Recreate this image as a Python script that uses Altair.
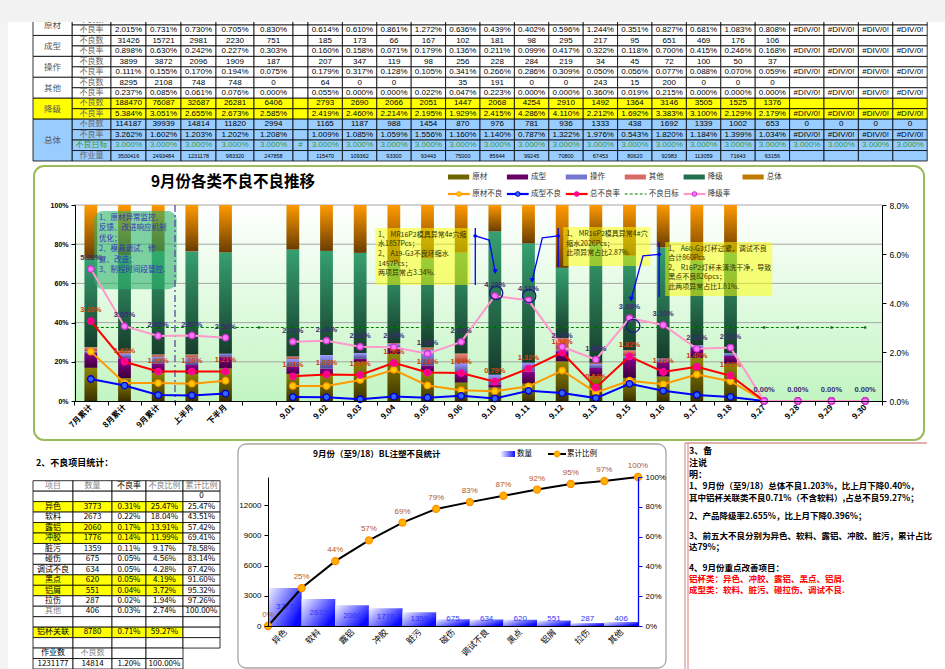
import json
import altair as alt
import pandas as pd

# ======================= DATA =======================
cats = ['7月累计', '8月累计', '9月累计', '上半月', '下半月', '',
        '9.01', '9.02', '9.03', '9.04', '9.05', '9.06', '9.10', '9.11', '9.12',
        '9.13', '9.15', '9.16', '9.17', '9.18', '9.27', '9.28', '9.29', '9.30']
BLANK = 5  # empty spacer column between 下半月 and 9.01

# 23 real columns (spacer excluded); None = #DIV/0!
rate_raw = [2.015, 0.731, 0.730, 0.705, 0.830, 0.614, 0.610, 0.861, 1.272, 0.636, 0.439, 0.402,
            0.596, 1.244, 0.351, 0.827, 0.681, 1.083, 0.808, None, None, None, None]
rate_mold = [0.898, 0.630, 0.242, 0.227, 0.303, 0.160, 0.158, 0.071, 0.179, 0.136, 0.211, 0.099,
             0.417, 0.322, 0.118, 0.700, 0.415, 0.246, 0.168, None, None, None, None]
rate_oper = [0.111, 0.155, 0.170, 0.194, 0.075, 0.179, 0.317, 0.128, 0.105, 0.341, 0.266, 0.286,
             0.309, 0.050, 0.056, 0.077, 0.088, 0.070, 0.059, None, None, None, None]
rate_other = [0.237, 0.085, 0.061, 0.076, 0.000, 0.055, 0.000, 0.000, 0.022, 0.047, 0.223, 0.000,
              0.000, 0.360, 0.019, 0.215, 0.000, 0.000, 0.000, None, None, None, None]
rate_down = [5.384, 3.051, 2.655, 2.673, 2.585, 2.419, 2.460, 2.214, 2.195, 1.929, 2.415, 4.286,
             4.110, 2.212, 1.692, 3.383, 3.100, 2.129, 2.179, None, None, None, None]
rate_total = [3.262, 1.602, 1.203, 1.202, 1.208, 1.009, 1.085, 1.059, 1.556, 1.160, 1.140, 0.787,
              1.322, 1.976, 0.543, 1.820, 1.184, 1.399, 1.034, None, None, None, None]
rate_target = [3.0, 3.0, 3.0, 3.0, 3.0, 3.0, 3.0, 3.0, 3.0, 3.0, 3.0, 3.0,
               3.0, 3.0, 3.0, 3.0, 3.0, 3.0, 3.0, 3.0, 3.0, 3.0, 3.0]

cnt_mold = [31426, 15721, 2981, 2230, 751, 185, 173, 66, 167, 102, 181, 98, 295, 217, 95, 651, 469,
            176, 106, None, None, None, None]
cnt_oper = [3899, 3872, 2096, 1909, 187, 207, 347, 119, 98, 256, 228, 284, 219, 34, 45, 72, 100,
            50, 37, None, None, None, None]
cnt_other = [8295, 2108, 748, 748, 0, 64, 0, 0, None, 35, 191, 0, 0, 243, 15, 200, 0, 0, 0,
             None, None, None, None]
cnt_down = [188470, 76087, 32687, 26281, 6406, 2793, 2690, 2066, 2051, 1447, 2068, 4254, 2910,
            1492, 1364, 3146, 3505, 1525, 1376, None, None, None, None]
cnt_total = [114187, 39939, 14814, 11820, 2994, 1165, 1187, 988, 1454, 870, 976, 781, 936, 1333,
             438, 1692, 1339, 1002, 653, 0, 0, 0, 0]
volume = [3500416, 2493484, 1231178, 983320, 247858, 115470, 109362, 93300, 93443, 75000, 85644,
          99245, 70800, 67453, 80620, 92983, 113059, 71643, 63156, None, None, None, None]

bar_series = ['原材', '成型', '操作', '其他', '降级', '总体']
line_series = ['原材不良', '成型不良', '总不良率', '不良目标', '降级率']

# defect items (Sept, up to 9/18)
items = ['异色', '软料', '露铝', '冲胶', '脏污', '碰伤', '调试不良', '黑点', '铝屑', '拉伤', '其他']
qty = [3773, 2673, 2060, 1776, 1359, 675, 634, 620, 551, 287, 406]
item_rate = ['0.31%', '0.22%', '0.17%', '0.14%', '0.11%', '0.05%', '0.05%', '0.05%', '0.04%', '0.02%', '0.03%']
item_share = ['25.47%', '18.04%', '13.91%', '11.99%', '9.17%', '4.56%', '4.28%', '4.19%', '3.72%', '1.94%', '2.74%']
item_cum = [25.47, 43.51, 57.42, 69.41, 78.58, 83.14, 87.42, 91.60, 95.32, 97.26, 100.00]
highlight = ['异色', '露铝', '冲胶', '黑点', '铝屑', '铝杯关联']
alu_row = ['铝杯关联', '8780', '0.71%', '59.27%', '']
work_total = ['1231177', '14814', '1.20%', '100.00%']
defect_total = 14814

green_note = ['1、原材异常监控、', '反馈、改进响应机制', '优化；', '2、模具调试、修', '复、改造；', '3、制程时间段管控.']
note_a = ['1、 MR16P2模具异常4#穴缩', '水1857Pcs；', '2、 A19-G3不良环缩水', '1457Pcs；', '两项异常占3.34%.']
note_b = ['1、 MR16P2模具异常4#穴', '缩水2026Pcs；', '此项异常占比2.87%.']
note_c = ['1、 A60-G3灯杯过紧，调试不良', '合计860Pcs', '2、 R16P2灯杯未清洗干净，导致', '黑点不良826pcs；', '此两项异常占比1.81%.']

notes = ['3、备', '注说', '明：',
         '1、9月份（至9/18）总体不良1.203%，比上月下降0.40%，',
         '其中铝杯关联类不良0.71%（不含软料）,占总不良59.27%；',
         '2、产品降级率2.655%，比上月下降0.396%；',
         '3、前五大不良分别为异色、软料、露铝、冲胶、脏污，累计占比',
         '达79%；',
         '4、9月份重点改善项目：',
         '铝杯类：异色、冲胶、露铝、黑点、铝屑.',
         '成型类：软料、脏污、碰拉伤、调试不良.']

# ======================= STYLE / LAYOUT =======================
CJK = 'Noto Sans CJK SC'
LAT = 'Liberation Sans'
BAR_GRAD = {'原材': ('#8f8500', '#3a3000'), '成型': ('#8a008a', '#3a003a'),
            '操作': ('#9a9aff', '#4a4a90'), '其他': ('#f08878', '#a04030'),
            '降级': ('#36a070', '#163d2b'), '总体': ('#ff9a00', '#6a3c00')}
BAR_SOLID = {'原材': '#6e6600', '成型': '#660066', '操作': '#7676d0', '其他': '#d86a64',
             '降级': '#22704c', '总体': '#c07800'}
LINE_STYLE = {'原材不良': ('#ff9900', '#ffcc00', '#ff9900'),
              '成型不良': ('#0000ff', '#3366ff', '#0000cc'),
              '总不良率': ('#ff0000', '#ff0077', '#ff00aa'),
              '降级率': ('#ff99cc', '#ff77ff', '#cc33cc')}
NOTE_Y = [451, 463, 474.5, 486, 497.5, 516, 536, 547, 568, 579, 590]  # line positions (px)


def lg(c0, c1, x2=0.0, y2=1.0):
    return alt.LinearGradient(gradient='linear',
                              stops=[alt.GradientStop(color=c0, offset=0),
                                     alt.GradientStop(color=c1, offset=1)],
                              x1=0, y1=0, x2=x2, y2=y2)


def sc(d, r):
    return alt.Scale(domain=d, range=r, nice=False, zero=False)


one = pd.DataFrame({'k': [0]})


def px_rect(x0, y0, x1, y1, **kw):
    return alt.Chart(one).mark_rect(**kw).encode(
        x=alt.value(x0), x2=alt.value(x1), y=alt.value(y0), y2=alt.value(y1))


def px_rule(x0, y0, x1, y1, **kw):
    return alt.Chart(one).mark_rule(**kw).encode(
        x=alt.value(x0), x2=alt.value(x1), y=alt.value(y0), y2=alt.value(y1))


def px_text(txt, x, y, **kw):
    return alt.Chart(one).mark_text(text=txt, **kw).encode(x=alt.value(x), y=alt.value(y))


def cat_of(j):
    return j if j < BLANK else j + 1


layers = []

# ======================= TOP TABLE =======================
tw = [39, 39, 35, 35, 35, 38, 39, 15] + [34.4] * 18
te = [0.0]
for w in tw:
    te.append(te[-1] + w)
TX = sc([0, te[-1]], [33, 33 + te[-1]])
TY = sc([0, 13], [25, 161])

top_rows = [('原材', '不良数', None, 'n'), ('原材', '不良率', rate_raw, 'p'),
            ('成型', '不良数', cnt_mold, 'n'), ('成型', '不良率', rate_mold, 'p'),
            ('操作', '不良数', cnt_oper, 'n'), ('操作', '不良率', rate_oper, 'p'),
            ('其他', '不良数', cnt_other, 'n'), ('其他', '不良率', rate_other, 'p'),
            ('降级', '不良数', cnt_down, 'n'), ('降级', '不良率', rate_down, 'p'),
            ('总体', '不良数', cnt_total, 'n'), ('总体', '不良率', rate_total, 'p'),
            ('总体', '不良目标', rate_target, 'p'), ('总体', '作业量', volume, 'n')]


def row_fill(g):
    return '#ffff00' if g == '降级' else ('#99ccff' if g == '总体' else '#ffffff')


tcells, tnum, tlab = [], [], []
spans = {}
for ridx, (grp, sub, vals, kind) in enumerate(top_rows):
    r = ridx - 1
    spans.setdefault(grp, [r, r + 1])
    spans[grp][1] = r + 1
    fill = row_fill(grp)
    tcells.append(dict(x0=te[1], x1=te[2], y0=r, y1=r + 1, fill=fill))
    tlab.append(dict(x=(te[1] + te[2]) / 2, y=r + 0.5, t=sub,
                     c='#339933' if sub == '不良目标' else '#666666', s=8))
    for i in range(24):
        c = 2 + i
        tcells.append(dict(x0=te[c], x1=te[c + 1], y0=r, y1=r + 1, fill=fill))
        if i == BLANK:
            t = '#' if sub == '不良目标' else ''
        elif vals is None:
            t = ''
        else:
            v = vals[i if i < BLANK else i - 1]
            if kind == 'p':
                t = '#DIV/0!' if v is None else f'{v:.3f}%'
            else:
                t = '' if v is None else str(v)
        if t:
            tnum.append(dict(x=(te[c] + te[c + 1]) / 2, y=r + 0.5, t=t,
                             c='#339933' if sub == '不良目标' else '#000000',
                             s=5.5 if sub == '作业量' else 8))
for grp, (a, b) in spans.items():
    tcells.append(dict(x0=te[0], x1=te[1], y0=a, y1=b, fill=row_fill(grp)))
    tlab.append(dict(x=(te[0] + te[1]) / 2, y=(a + b) / 2, t=grp, c='#555555', s=8.5))

layers.append(alt.Chart(pd.DataFrame(tcells)).mark_rect(stroke='#000000', strokeWidth=0.8).encode(
    x=alt.X('x0:Q', scale=TX, axis=None), x2='x1:Q',
    y=alt.Y('y0:Q', scale=TY, axis=None), y2='y1:Q',
    fill=alt.Fill('fill:N', scale=None)))
layers.append(alt.Chart(pd.DataFrame(tnum)).mark_text(font=LAT, baseline='middle').encode(
    x=alt.X('x:Q', scale=TX, axis=None), y=alt.Y('y:Q', scale=TY, axis=None),
    text='t:N', color=alt.Color('c:N', scale=None), size=alt.Size('s:Q', scale=None)))
layers.append(alt.Chart(pd.DataFrame(tlab)).mark_text(font=CJK, baseline='middle').encode(
    x=alt.X('x:Q', scale=TX, axis=None), y=alt.Y('y:Q', scale=TY, axis=None),
    text='t:N', color=alt.Color('c:N', scale=None), size=alt.Size('s:Q', scale=None)))
# grey header band / left strip of the sheet window
layers.append(px_rect(0, 0, 945, 22, fill='#f2f2f2'))
layers.append(px_rect(0, 22, 8, 669, fill='#f3f3f3'))

# ======================= MAIN CHART =======================
MX = sc([0, 24], [74, 882])
MY = sc([0, 1], [401, 205])
MR = sc([0, 8], [401, 205])

layers.append(px_rect(34, 166, 924, 440, fill='#ffffff', stroke='#9bbb59', strokeWidth=2, cornerRadius=10))
layers.append(px_text('9月份各类不良不良推移', 233, 182, font=CJK, fontSize=15.5, fontWeight='bold',
                      align='center', baseline='middle', color='#000000'))

label_expr = json.dumps(cats, ensure_ascii=False) + '[floor(datum.value)]'
# plot background (gradient) with left % axis and category labels
layers.append(alt.Chart(one).mark_rect(color=lg('#ffffff', '#c2f5c2')).encode(
    x=alt.XDatum(0, type='quantitative', scale=MX,
                 axis=alt.Axis(orient='bottom', offset=-268, values=[k + 0.5 for k in range(24)],
                               labelExpr=label_expr, labelAngle=315, labelAlign='right',
                               labelBaseline='middle', labelPadding=5, ticks=False,
                               labelFont=CJK, labelFontSize=8, labelFontWeight='bold',
                               labelColor='#000000', domainColor='#000000', domainWidth=1.2,
                               grid=False, title=None, labelOverlap=False, zindex=1)),
    x2=alt.X2Datum(24),
    y=alt.YDatum(0, type='quantitative', scale=MY,
                 axis=alt.Axis(orient='left', offset=-75, values=[0, 0.2, 0.4, 0.6, 0.8, 1.0],
                               format='.0%', labelFont=LAT, labelFontSize=7, labelFontWeight='bold',
                               labelColor='#000000', domainColor='#000000', tickColor='#000000',
                               tickSize=4, grid=False, title=None, labelPadding=3, zindex=1)),
    y2=alt.Y2Datum(1)))

grid_vals = [0.2, 0.4, 0.6, 0.8, 1.0]
layers.append(alt.Chart(pd.DataFrame({'g': grid_vals})).mark_rule(color='#a6a6a6', strokeWidth=1).encode(
    x=alt.XDatum(0, type='quantitative', scale=MX,
                 axis=alt.Axis(orient='bottom', offset=-268, values=list(range(25)), labels=False,
                               domain=False, ticks=True, tickSize=4, tickColor='#000000',
                               grid=False, title=None, zindex=1)),
    x2=alt.X2Datum(24),
    y=alt.Y('g:Q', scale=MY, axis=None)))

# stacked (100%) bars
bar_rows = []
for order, (name, vals) in enumerate(zip(bar_series, [rate_raw, rate_mold, rate_oper,
                                                        rate_other, rate_down, rate_total])):
    for j, v in enumerate(vals):
        bar_rows.append({'i': cat_of(j), 'series': name, 'order': order, 'r': v})
df_bar = pd.DataFrame(bar_rows)
for name in bar_series:
    top, bot = BAR_GRAD[name]
    layers.append(alt.Chart(df_bar).transform_filter('isValid(datum.r) && datum.r > 0').transform_stack(
        stack='r', groupby=['i'], as_=['y0', 'y1'], offset='normalize',
        sort=[alt.SortField('order', order='ascending')]
    ).transform_filter(alt.datum.series == name).transform_calculate(
        xa='datum.i + 0.31', xb='datum.i + 0.69'
    ).mark_rect(color=lg(top, bot)).encode(
        x=alt.X('xa:Q', scale=MX, axis=None), x2='xb:Q',
        y=alt.Y('y0:Q', scale=MY, axis=None), y2='y1:Q'))

# annotation boxes (behind lines)
layers.append(alt.Chart(pd.DataFrame({'a': [0.6], 'b': [3.05], 'c': [0.97], 'd': [0.57]})).mark_rect(
    fill='#2db36b', opacity=0.6, cornerRadius=9).encode(
    x=alt.X('a:Q', scale=MX, axis=None), x2='b:Q', y=alt.Y('c:Q', scale=MY, axis=None), y2='d:Q'))
layers.append(alt.Chart(pd.DataFrame({'a': [8.95, 14.53, 17.56], 'b': [11.77, 17.12, 20.74],
                                      'c': [0.883, 0.888, 0.811], 'd': [0.592, 0.689, 0.536]})).mark_rect(
    fill='#ffff00', opacity=0.5).encode(
    x=alt.X('a:Q', scale=MX, axis=None), x2='b:Q', y=alt.Y('c:Q', scale=MY, axis=None), y2='d:Q'))


def note_df(lines, x, v0, step):
    return pd.DataFrame({'t': lines, 'x': [x] * len(lines),
                         'v': [v0 - step * k for k in range(len(lines))]})


def note_layer(df, color, size):
    return alt.Chart(df).mark_text(font=CJK, fontSize=size, align='left', baseline='middle',
                                   color=color).encode(
        x=alt.X('x:Q', scale=MX, axis=None), y=alt.Y('v:Q', scale=MY, axis=None), text='t:N')


layers.append(note_layer(note_df(green_note, 0.74, 0.934, 0.0536), '#3434b4', 7.5))
layers.append(note_layer(pd.concat([note_df(note_a, 9.03, 0.847, 0.0485),
                                    note_df(note_b, 14.62, 0.852, 0.0495),
                                    note_df(note_c, 17.65, 0.778, 0.0485)]), '#333300', 7))

# vertical dash-dot separator
layers.append(alt.Chart(pd.DataFrame({'x': [3], 'a': [1.0], 'b': [-0.012]})).mark_rule(
    color='#5a4a9a', strokeWidth=1.3, strokeDash=[7, 3, 2, 3]).encode(
    x=alt.X('x:Q', scale=MX, axis=None), y=alt.Y('a:Q', scale=MY, axis=None), y2='b:Q'))

# lines
line_rows = []
for name, vals in zip(['原材不良', '成型不良', '总不良率', '降级率'],
                      [rate_raw, rate_mold, rate_total, rate_down]):
    for j, v in enumerate(vals):
        i = cat_of(j)
        line_rows.append({'i': i, 'series': name, 'v': 0.0 if v is None else v,
                          'seg': 0 if i < BLANK else 1})
df_line = pd.DataFrame(line_rows)

target_df = pd.DataFrame({'i': list(range(24)),
                          'v': rate_target[:BLANK] + [rate_target[BLANK - 1]] + rate_target[BLANK:]})
layers.append(alt.Chart(target_df).transform_calculate(xc='datum.i + 0.5').mark_line(
    color='#008000', strokeWidth=1.2, strokeDash=[3, 2]).encode(
    x=alt.X('xc:Q', scale=MX, axis=None), y=alt.Y('v:Q', scale=MR, axis=None)))
layers.append(alt.Chart(target_df).transform_calculate(xc='datum.i + 0.5').mark_point(
    shape='square', size=5, filled=True, color='#006400', opacity=1).encode(
    x=alt.X('xc:Q', scale=MX, axis=None), y=alt.Y('v:Q', scale=MR, axis=None)))

for name in ['原材不良', '成型不良', '总不良率', '降级率']:
    lc, pf, ps = LINE_STYLE[name]
    base = alt.Chart(df_line).transform_filter(alt.datum.series == name).transform_calculate(
        xc='datum.i + 0.5')
    yax = None
    if name == '降级率':
        yax = alt.Axis(orient='right', offset=-63, values=[0, 2, 4, 6, 8],
                       labelExpr="format(datum.value, '.1f') + '%'", labelFont=LAT,
                       labelFontSize=8.5, labelColor='#000000', domainColor='#000000',
                       tickColor='#000000', tickSize=4, grid=False, title=None, labelPadding=3,
                       zindex=1)
    layers.append(base.mark_line(color=lc, strokeWidth=2).encode(
        x=alt.X('xc:Q', scale=MX, axis=None), y=alt.Y('v:Q', scale=MR, axis=yax), detail='seg:N'))
    layers.append(base.mark_point(shape='circle', size=42, filled=True, fill=pf, stroke=ps,
                                  strokeWidth=1.3, opacity=1).encode(
        x=alt.X('xc:Q', scale=MX, axis=None), y=alt.Y('v:Q', scale=MR, axis=None)))

layers.append(alt.Chart(df_line).transform_filter(
    (alt.datum.series == '总不良率') & (alt.datum.i < 20)).transform_calculate(
    xc='datum.i + 0.5', lab="format(datum.v, '.2f') + '%'").mark_text(
    font=LAT, fontSize=7.5, fontWeight='bold', color='#d0400c', dy=-11).encode(
    x=alt.X('xc:Q', scale=MX, axis=None), y=alt.Y('v:Q', scale=MR, axis=None), text='lab:N'))
layers.append(alt.Chart(df_line).transform_filter(alt.datum.series == '降级率').transform_calculate(
    xc='datum.i + 0.5', lab="format(datum.v, '.2f') + '%'").mark_text(
    font=LAT, fontSize=7.5, fontWeight='bold', color='#3b2d72', dy=-11).encode(
    x=alt.X('xc:Q', scale=MX, axis=None), y=alt.Y('v:Q', scale=MR, axis=None), text='lab:N'))

# blue callout arrows and circles
arrow_df = pd.DataFrame([
    dict(g='a1', o=0, x=11.92, v=0.883), dict(g='a1', o=1, x=11.92, v=0.592),
    dict(g='b1', o=0, x=11.92, v=0.842), dict(g='b1', o=1, x=12.33, v=0.821), dict(g='b1', o=2, x=12.51, v=0.66),
    dict(g='a2', o=0, x=14.38, v=0.883), dict(g='a2', o=1, x=14.38, v=0.684),
    dict(g='b2', o=0, x=14.38, v=0.842), dict(g='b2', o=1, x=13.91, v=0.832), dict(g='b2', o=2, x=13.61, v=0.615),
    dict(g='a3', o=0, x=17.38, v=0.811), dict(g='a3', o=1, x=17.38, v=0.531),
    dict(g='b3', o=0, x=17.38, v=0.748), dict(g='b3', o=1, x=16.90, v=0.741), dict(g='b3', o=2, x=16.55, v=0.52)])
layers.append(alt.Chart(arrow_df).mark_line(color='#0000ff', strokeWidth=1.3).encode(
    x=alt.X('x:Q', scale=MX, axis=None), y=alt.Y('v:Q', scale=MY, axis=None),
    detail='g:N', order='o:Q'))
layers.append(alt.Chart(arrow_df).transform_filter('datum.o == 2').mark_point(
    shape='triangle-down', size=28, filled=True, color='#0000ff', opacity=1).encode(
    x=alt.X('x:Q', scale=MX, axis=None), y=alt.Y('v:Q', scale=MY, axis=None)))
layers.append(alt.Chart(arrow_df).transform_filter("datum.o == 0 && indexof(datum.g, 'b') == 0").mark_point(
    shape='diamond', size=22, filled=True, color='#0000ff', opacity=1).encode(
    x=alt.X('x:Q', scale=MX, axis=None), y=alt.Y('v:Q', scale=MY, axis=None)))
layers.append(alt.Chart(pd.DataFrame({'x': [12.54, 13.52, 16.61], 'v': [0.551, 0.536, 0.383]})).mark_point(
    shape='circle', size=175, filled=False, color='#1a1a8a', strokeWidth=1.3, opacity=1).encode(
    x=alt.X('x:Q', scale=MX, axis=None), y=alt.Y('v:Q', scale=MY, axis=None)))

# legend (manual)
LX = sc([0, 6], [448, 801.4])
LY = sc([0, 1], [177, 194])
leg1 = pd.DataFrame({'k': list(range(6)), 'name': bar_series, 'row': [0] * 6,
                     'c': [BAR_SOLID[n] for n in bar_series]})
leg2 = pd.DataFrame({'k': list(range(5)), 'name': line_series, 'row': [1] * 5})
layers.append(alt.Chart(leg1).transform_calculate(k2='datum.k + 0.36').mark_rule(strokeWidth=5).encode(
    x=alt.X('k:Q', scale=LX, axis=None), x2='k2:Q', y=alt.Y('row:Q', scale=LY, axis=None),
    color=alt.Color('c:N', scale=None)))
for k, name in enumerate(line_series):
    d = leg2[leg2['name'] == name]
    if name == '不良目标':
        layers.append(alt.Chart(d).transform_calculate(k2='datum.k + 0.37').mark_rule(
            strokeWidth=1.2, color='#008000', strokeDash=[3, 2]).encode(
            x=alt.X('k:Q', scale=LX, axis=None), x2='k2:Q', y=alt.Y('row:Q', scale=LY, axis=None)))
    else:
        lc, pf, ps = LINE_STYLE[name]
        layers.append(alt.Chart(d).transform_calculate(k2='datum.k + 0.37').mark_rule(
            strokeWidth=2.2, color=lc).encode(
            x=alt.X('k:Q', scale=LX, axis=None), x2='k2:Q', y=alt.Y('row:Q', scale=LY, axis=None)))
        layers.append(alt.Chart(d).transform_calculate(km='datum.k + 0.185').mark_point(
            shape='circle', size=22, filled=True, fill=pf, stroke=ps, strokeWidth=1, opacity=1).encode(
            x=alt.X('km:Q', scale=LX, axis=None), y=alt.Y('row:Q', scale=LY, axis=None)))
layers.append(alt.Chart(pd.concat([leg1[['k', 'name', 'row']], leg2])).transform_calculate(
    kt='datum.k + 0.41').mark_text(font=CJK, fontSize=7.5, align='left', baseline='middle',
                                   color='#333333').encode(
    x=alt.X('kt:Q', scale=LX, axis=None), y=alt.Y('row:Q', scale=LY, axis=None), text='name:N'))

# ======================= BOTTOM LEFT TABLE =======================
layers.append(px_text('2、不良项目统计：', 36, 463, font=CJK, fontSize=9, fontWeight='bold',
                      align='left', baseline='middle', color='#000000'))
bw = [40, 39, 34, 37, 37]
be = [0.0]
for w in bw:
    be.append(be[-1] + w)
BX = sc([0, be[-1]], [33, 33 + be[-1]])
BY = sc([0, 18], [480.7, 669])
b_rows = [['项目', '数量', '不良率', '不良比例', '累计比例'], ['', '', '', '', '0']]
for k in range(len(items)):
    b_rows.append([items[k], str(qty[k]), item_rate[k], item_share[k], f'{item_cum[k]:.2f}%'])
b_rows += [[''] * 5, alu_row, [''] * 5, ['作业数', '不良数', '', '', ''], work_total + ['']]
gray_txt = {(0, 0), (0, 1), (0, 3), (0, 4), (12, 0), (16, 1)}
bcells, btxt = [], []
for r, row in enumerate(b_rows):
    ncol = 5 if r < 16 else 4
    for c in range(ncol):
        fill = '#ffff00' if (row[0] in highlight and c < 4) else '#ffffff'
        bcells.append(dict(x0=be[c], x1=be[c + 1], y0=r, y1=r + 1, fill=fill))
    for c, t in enumerate(row):
        if t:
            btxt.append(dict(x=(be[c] + be[c + 1]) / 2, y=r + 0.5, t=t,
                             c='#7f7f7f' if (r, c) in gray_txt else '#000000'))
layers.append(alt.Chart(pd.DataFrame(bcells)).mark_rect(stroke='#000000', strokeWidth=0.8).encode(
    x=alt.X('x0:Q', scale=BX, axis=None), x2='x1:Q', y=alt.Y('y0:Q', scale=BY, axis=None), y2='y1:Q',
    fill=alt.Fill('fill:N', scale=None)))
layers.append(alt.Chart(pd.DataFrame(btxt)).mark_text(font=CJK, fontSize=8, baseline='middle').encode(
    x=alt.X('x:Q', scale=BX, axis=None), y=alt.Y('y:Q', scale=BY, axis=None), text='t:N',
    color=alt.Color('c:N', scale=None)))

# ======================= PARETO =======================
PX = sc([0, len(items)], [268, 638])
PYL = sc([0, defect_total], [626, 477])
PYR = sc([0, 100], [626, 477])
layers.append(px_rect(238, 444, 666, 668, fill='#ffffff', stroke='#a6a6a6', strokeWidth=1.3, cornerRadius=8))
layers.append(px_text('9月份（至9/18）BL注塑不良统计', 313, 454, font=CJK, fontSize=8.5, fontWeight='bold',
                      align='left', baseline='middle', color='#000000'))
# pareto legend
layers.append(px_rect(500, 451, 515, 457, color=lg('#ffffff', '#1010ff', x2=1, y2=0)))
layers.append(px_text('数量', 517, 454, font=CJK, fontSize=7.5, align='left', baseline='middle', color='#000000'))
layers.append(px_rule(548, 454, 566, 454, color='#000000', strokeWidth=2))
layers.append(px_rect(554, 451, 560, 457, fill='#ffb000', stroke='#ff9900', cornerRadius=3))
layers.append(px_text('累计比例', 567, 454, font=CJK, fontSize=7.5, align='left', baseline='middle', color='#000000'))

p_df = pd.DataFrame({'i': list(range(len(items))), 'item': items, 'q': qty})
p_items_expr = json.dumps(items, ensure_ascii=False) + '[floor(datum.value)]'
layers.append(alt.Chart(p_df).transform_calculate(i2='datum.i + 1', z='0').mark_rect(
    color=lg('#f4f4ff', '#0a0aff', x2=1, y2=0.6)).encode(
    x=alt.X('i:Q', scale=PX,
            axis=alt.Axis(orient='bottom', offset=-43, values=[k + 0.5 for k in range(len(items))],
                          labelExpr=p_items_expr, labelAngle=315, labelAlign='right',
                          labelBaseline='middle', labelPadding=4, ticks=False, labelFont=CJK,
                          labelFontSize=8.5, labelColor='#000000', domainColor='#000000',
                          domainWidth=1.2, grid=False, title=None, labelOverlap=False, zindex=1)),
    x2='i2:Q',
    y=alt.Y('q:Q', scale=PYL,
            axis=alt.Axis(orient='left', offset=-268, values=[0, 3000, 6000, 9000, 12000], format='d',
                          labelFont=LAT, labelFontSize=8, labelColor='#000000', domainColor='#000000',
                          tickColor='#000000', tickSize=4, grid=False, title=None, labelPadding=3,
                          zindex=1)),
    y2='z:Q'))
layers.append(alt.Chart(p_df).transform_calculate(xc='datum.i + 0.5', yl='max(datum.q / 2, 700)').mark_text(
    font=LAT, fontSize=8, color='#3333ff', baseline='middle').encode(
    x=alt.X('xc:Q', scale=PX, axis=None), y=alt.Y('yl:Q', scale=PYL, axis=None), text='q:Q'))

cum_df = pd.DataFrame({'x': list(range(len(items) + 1)), 'c': [0.0] + item_cum})
layers.append(alt.Chart(cum_df).mark_line(color='#000000', strokeWidth=2).encode(
    x=alt.X('x:Q', scale=PX, axis=None),
    y=alt.Y('c:Q', scale=PYR,
            axis=alt.Axis(orient='right', offset=-307, values=[0, 20, 40, 60, 80, 100],
                          labelExpr="datum.value + '%'", labelFont=LAT, labelFontSize=8,
                          labelColor='#000000', domainColor='#0000ff', domainWidth=1.3,
                          tickColor='#0000ff', tickSize=4, grid=False, title=None, labelPadding=3,
                          zindex=1))))
layers.append(alt.Chart(cum_df).mark_point(shape='circle', size=50, filled=True, fill='#ffb000',
                                           stroke='#ff8c00', strokeWidth=1.2, opacity=1).encode(
    x=alt.X('x:Q', scale=PX, axis=None), y=alt.Y('c:Q', scale=PYR, axis=None)))
layers.append(alt.Chart(cum_df).transform_calculate(lab="format(datum.c, '.0f') + '%'").mark_text(
    font=LAT, fontSize=8, color='#b0582c', dy=-11).encode(
    x=alt.X('x:Q', scale=PX, axis=None), y=alt.Y('c:Q', scale=PYR, axis=None), text='lab:N'))

# ======================= NOTES =======================
layers.append(px_rule(685, 443, 685, 669, color='#d99694', strokeWidth=1.2))
layers.append(px_rule(688, 443, 688, 669, color='#d99694', strokeWidth=1.2))
layers.append(px_rule(685, 443, 927, 443, color='#d99694', strokeWidth=1.5))
NY = sc([0, 669], [0, 669])
notes_df = pd.DataFrame({'t': notes, 'y': NOTE_Y,
                         'big': [k < 3 for k in range(len(notes))],
                         'red': [t.startswith('铝杯类') or t.startswith('成型类') for t in notes]})
layers.append(alt.Chart(notes_df).transform_filter('datum.big').mark_text(
    font=CJK, fontSize=9, fontWeight='bold', align='left', baseline='middle', color='#000000').encode(
    x=alt.value(689), y=alt.Y('y:Q', scale=NY, axis=None), text='t:N'))
layers.append(alt.Chart(notes_df).transform_filter('!datum.big').mark_text(
    font=CJK, fontSize=8.5, fontWeight='bold', align='left', baseline='middle').encode(
    x=alt.value(689), y=alt.Y('y:Q', scale=NY, axis=None), text='t:N',
    color=alt.condition('datum.red', alt.value('#ff0000'), alt.value('#000000'))))

chart = alt.layer(*layers).resolve_scale(x='independent', y='independent').properties(
    width=945, height=669, autosize=alt.AutoSizeParams(type='none'), padding=0,
    background='#ffffff'
).configure_view(stroke=None)

chart.save('out.html', embed_options={'renderer': 'svg', 'actions': False})
